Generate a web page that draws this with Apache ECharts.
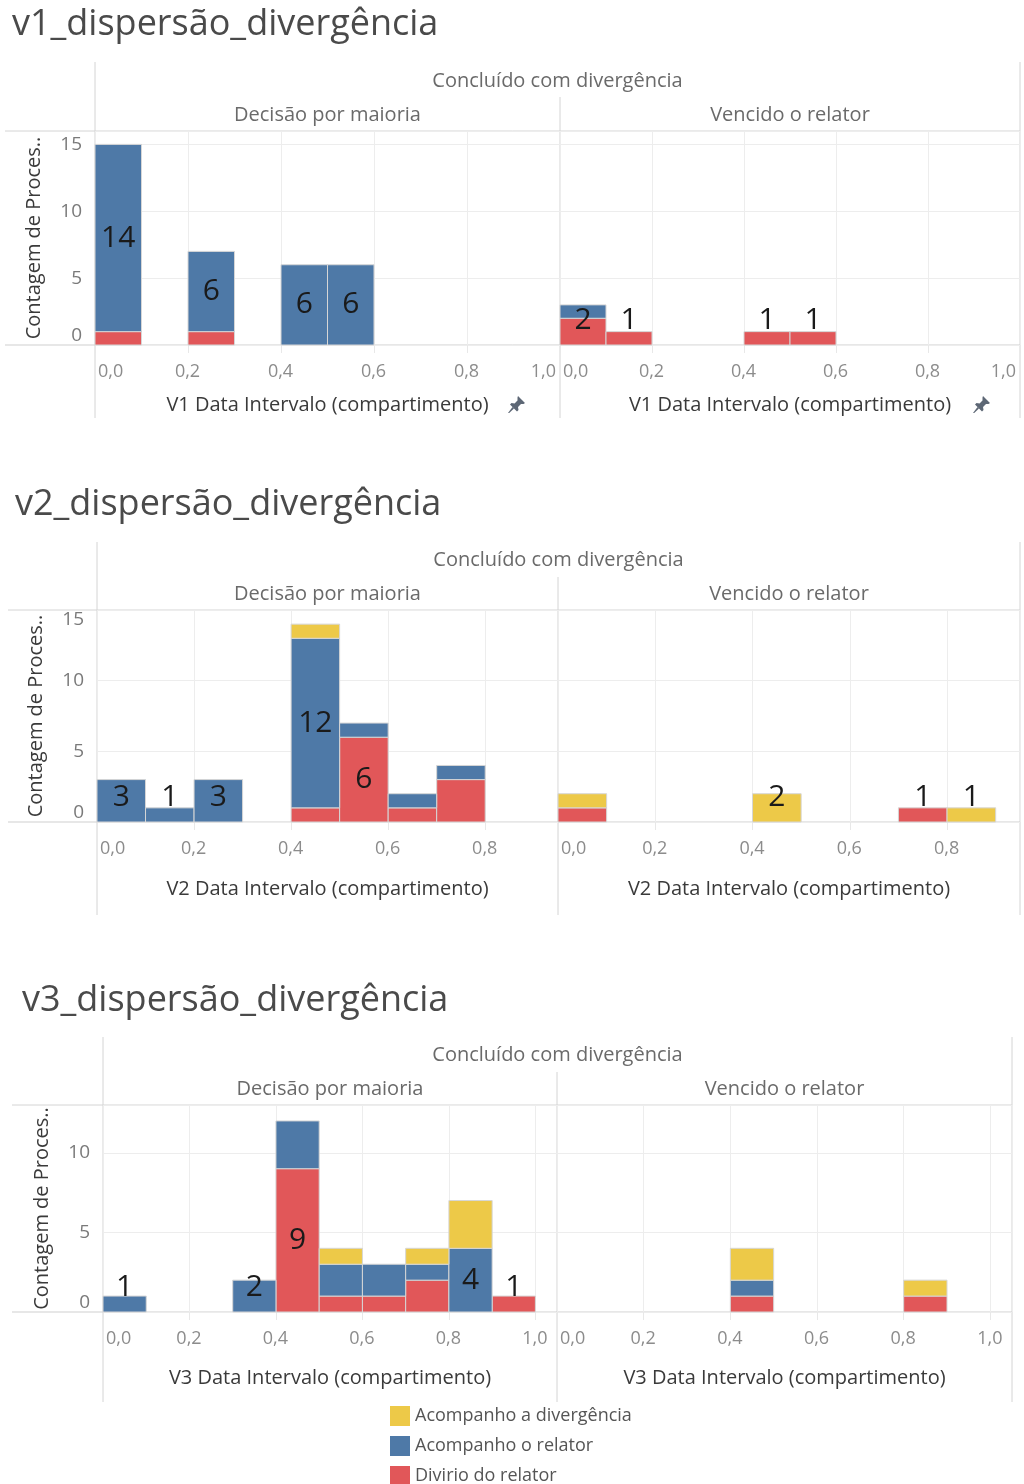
<!DOCTYPE html>
<html>
<head>
<meta charset="utf-8">
<script src="https://cdn.jsdelivr.net/npm/echarts@6/dist/echarts.min.js"></script>
<style>
html, body {margin: 0; padding: 0; background: #fff; overflow: hidden;}
#main {width: 1024px; height: 1500px;}
</style>
</head>
<body>
<div id="main"></div>
<script>
// bins of 0.1 (start of each bin)
var binStarts = [0.0, 0.1, 0.2, 0.3, 0.4, 0.5, 0.6, 0.7, 0.8, 0.9];
var binWidth = 0.1;

var nameDiv = 'Acompanho a divergência';
var nameRel = 'Acompanho o relator';
var nameDvr = 'Divirio do relator';
var colorDiv = '#EDC948';
var colorRel = '#4E79A7';
var colorDvr = '#E15759';

var sectionTitles = ['v1_dispersão_divergência', 'v2_dispersão_divergência', 'v3_dispersão_divergência'];
var xAxisNames = ['V1 Data Intervalo (compartimento)', 'V2 Data Intervalo (compartimento)', 'V3 Data Intervalo (compartimento)'];
var topHeader = 'Concluído com divergência';
var panelHeaders = ['Decisão por maioria', 'Vencido o relator'];
var yAxisName = 'Contagem de Proces..';

// v1
var v1MaioriaDvr = [1, 0, 1, 0, 0, 0, 0, 0, 0, 0];
var v1MaioriaRel = [14, 0, 6, 0, 6, 6, 0, 0, 0, 0];
var v1MaioriaDiv = [0, 0, 0, 0, 0, 0, 0, 0, 0, 0];
var v1VencidoDvr = [2, 1, 0, 0, 1, 1, 0, 0, 0, 0];
var v1VencidoRel = [1, 0, 0, 0, 0, 0, 0, 0, 0, 0];
var v1VencidoDiv = [0, 0, 0, 0, 0, 0, 0, 0, 0, 0];
// v2
var v2MaioriaDvr = [0, 0, 0, 0, 1, 6, 1, 3, 0, 0];
var v2MaioriaRel = [3, 1, 3, 0, 12, 1, 1, 1, 0, 0];
var v2MaioriaDiv = [0, 0, 0, 0, 1, 0, 0, 0, 0, 0];
var v2VencidoDvr = [1, 0, 0, 0, 0, 0, 0, 1, 0, 0];
var v2VencidoRel = [0, 0, 0, 0, 0, 0, 0, 0, 0, 0];
var v2VencidoDiv = [1, 0, 0, 0, 2, 0, 0, 0, 1, 0];
// v3
var v3MaioriaDvr = [0, 0, 0, 0, 9, 1, 1, 2, 0, 1];
var v3MaioriaRel = [1, 0, 0, 2, 3, 2, 2, 1, 4, 0];
var v3MaioriaDiv = [0, 0, 0, 0, 0, 1, 0, 1, 3, 0];
var v3VencidoDvr = [0, 0, 0, 0, 1, 0, 0, 0, 1, 0];
var v3VencidoRel = [0, 0, 0, 0, 1, 0, 0, 0, 0, 0];
var v3VencidoDiv = [0, 0, 0, 0, 2, 0, 0, 0, 1, 0];

// which segments carry a number label: [bin index, segment]
var v1MaioriaLabels = [[0, 'rel'], [2, 'rel'], [4, 'rel'], [5, 'rel']];
var v1VencidoLabels = [[0, 'dvr'], [1, 'dvr'], [4, 'dvr'], [5, 'dvr']];
var v2MaioriaLabels = [[0, 'rel'], [1, 'rel'], [2, 'rel'], [4, 'rel'], [5, 'dvr']];
var v2VencidoLabels = [[4, 'div'], [7, 'dvr'], [8, 'div']];
var v3MaioriaLabels = [[0, 'rel'], [3, 'rel'], [4, 'dvr'], [8, 'rel'], [9, 'dvr']];
var v3VencidoLabels = [];

var yMaxes = [16, 15, 13];
var xMaxes = [1.0, 0.95, 1.05];

var panels = [
    {sec: 0, side: 0, dvr: v1MaioriaDvr, rel: v1MaioriaRel, div: v1MaioriaDiv, labels: v1MaioriaLabels},
    {sec: 0, side: 1, dvr: v1VencidoDvr, rel: v1VencidoRel, div: v1VencidoDiv, labels: v1VencidoLabels},
    {sec: 1, side: 0, dvr: v2MaioriaDvr, rel: v2MaioriaRel, div: v2MaioriaDiv, labels: v2MaioriaLabels},
    {sec: 1, side: 1, dvr: v2VencidoDvr, rel: v2VencidoRel, div: v2VencidoDiv, labels: v2VencidoLabels},
    {sec: 2, side: 0, dvr: v3MaioriaDvr, rel: v3MaioriaRel, div: v3MaioriaDiv, labels: v3MaioriaLabels},
    {sec: 2, side: 1, dvr: v3VencidoDvr, rel: v3VencidoRel, div: v3VencidoDiv, labels: v3VencidoLabels}
];

// page layout of each block (pixels)
var layout = [
    {titleX: 12, titleY: 25, headTop: 62, head1Y: 81, head2Y: 115, sepTop: 97, gridTop: 131, gridBottom: 345, bottomEnd: 418, left: 95, mid: 560, right: 1020, lineLeft: 5, nameGap: 50},
    {titleX: 15, titleY: 505, headTop: 542, head1Y: 560, head2Y: 594, sepTop: 577, gridTop: 610, gridBottom: 822, bottomEnd: 915, left: 97, mid: 558, right: 1020, lineLeft: 8, nameGap: 57},
    {titleX: 22, titleY: 1001, headTop: 1037, head1Y: 1055, head2Y: 1089, sepTop: 1072, gridTop: 1105, gridBottom: 1312, bottomEnd: 1402, left: 103, mid: 557, right: 1012, lineLeft: 12, nameGap: 56}
];

var FONT = '"Open Sans", "Noto Sans", sans-serif';
var chart = echarts.init(document.getElementById('main'), null, {renderer: 'canvas'});

function renderRect(params, api) {
    var p0 = api.coord([api.value(0), api.value(3)]);
    var p1 = api.coord([api.value(1), api.value(2)]);
    return {
        type: 'rect',
        shape: {x: p0[0], y: p0[1], width: p1[0] - p0[0], height: p1[1] - p0[1]},
        style: {fill: api.visual('color'), stroke: '#d6d6d6', lineWidth: 1}
    };
}

function renderLabel(params, api) {
    var p = api.coord([api.value(0), api.value(1)]);
    var base = api.coord([api.value(0), 0])[1];
    return {
        type: 'text',
        x: p[0],
        y: Math.min(p[1], base - 25),
        style: {
            text: String(api.value(2)),
            fill: '#1a1a1a',
            font: '30px ' + FONT,
            textAlign: 'center',
            textVerticalAlign: 'middle'
        }
    };
}

function xLabel(v) {
    var k = v * 5;
    return Math.abs(k - Math.round(k)) < 1e-6 ? v.toFixed(1).replace('.', ',') : '';
}
function yLabel(v) {
    return v % 5 === 0 ? String(v) : '';
}

var grids = [], xAxes = [], yAxes = [], series = [], graphics = [];

panels.forEach(function (pn, idx) {
    var L = layout[pn.sec];
    var gl = pn.side === 0 ? L.left : L.mid;
    var gr = pn.side === 0 ? L.mid : L.right;
    grids.push({left: gl, top: L.gridTop, width: gr - gl, height: L.gridBottom - L.gridTop, outerBoundsMode: 'none', containLabel: false});

    xAxes.push({
        gridIndex: idx, type: 'value', min: 0, max: xMaxes[pn.sec], interval: 0.2,
        axisLine: {show: false},
        axisTick: {show: true, length: 8, lineStyle: {color: '#e8e8e8'}},
        splitLine: {show: true, lineStyle: {color: '#ededed', width: 1}},
        axisLabel: {
            formatter: xLabel, color: '#8c8c8c', fontSize: 18, fontFamily: FONT, margin: 18,
            padding: [0, 4, 0, 3],
            alignMinLabel: 'left', alignMaxLabel: pn.sec === 0 ? 'right' : 'center', hideOverlap: false
        },
        name: xAxisNames[pn.sec], nameLocation: 'middle', nameGap: L.nameGap, nameMoveOverlap: false,
        nameTextStyle: {color: '#3a3a3a', fontSize: 20, fontFamily: FONT}
    });

    yAxes.push({
        gridIndex: idx, type: 'value', min: 0, max: yMaxes[pn.sec], interval: 5,
        axisLine: {show: false}, axisTick: {show: false},
        splitLine: {show: true, lineStyle: {color: '#ededed', width: 1}},
        axisLabel: {
            show: pn.side === 0, formatter: yLabel, color: '#7a7a7a', fontSize: 19, fontFamily: FONT, margin: 13,
            verticalAlignMinLabel: 'bottom', verticalAlignMaxLabel: 'top'
        },
        name: pn.side === 0 ? yAxisName : '', nameLocation: 'middle', nameGap: 51, nameRotate: 90, nameMoveOverlap: false,
        nameTextStyle: {color: '#3a3a3a', fontSize: 20, fontFamily: FONT}
    });

    // stacked segments: red at bottom, then blue, then yellow
    var segs = {dvr: [], rel: [], div: []};
    var bases = {dvr: [], rel: [], div: []};
    binStarts.forEach(function (x0, i) {
        var b = 0;
        ['dvr', 'rel', 'div'].forEach(function (k) {
            var v = pn[k][i];
            bases[k][i] = b;
            if (v > 0) segs[k].push([x0, x0 + binWidth, b, b + v]);
            b += v;
        });
    });
    [['dvr', nameDvr, colorDvr], ['rel', nameRel, colorRel], ['div', nameDiv, colorDiv]].forEach(function (s) {
        series.push({
            type: 'custom', name: s[1], xAxisIndex: idx, yAxisIndex: idx,
            itemStyle: {color: s[2]},
            renderItem: renderRect,
            encode: {x: [0, 1], y: [2, 3]},
            data: segs[s[0]],
            silent: true
        });
    });
    var labelData = pn.labels.map(function (lb) {
        var i = lb[0], k = lb[1], v = pn[k][i];
        return [binStarts[i] + binWidth / 2, bases[k][i] + v / 2, v];
    });
    series.push({
        type: 'custom', name: 'labels', xAxisIndex: idx, yAxisIndex: idx,
        renderItem: renderLabel, encode: {x: 0, y: 1}, data: labelData, silent: true, z: 10
    });
});

function line(x1, y1, x2, y2, color) {
    return {type: 'line', shape: {x1: x1, y1: y1, x2: x2, y2: y2}, style: {stroke: color || '#d4d4d4', lineWidth: 1}, silent: true};
}
function text(str, x, y, size, color, align) {
    return {type: 'text', x: x, y: y, silent: true,
        style: {text: str, fill: color, font: size + 'px ' + FONT, textAlign: align || 'center', textVerticalAlign: 'middle'}};
}
// little pushpin next to the v1 axis titles
var pinHead = [[10, 0], [17, 7], [15.5, 8], [13, 8], [10, 11], [10.5, 14], [9, 15.5], [2, 8.5], [3.5, 7], [6.5, 7.5], [9.5, 4.5], [9.5, 1.5]];
var pinNeedle = [[4.5, 11], [6, 12.5], [1.2, 17], [0, 17]];
function pin(x, y) {
    return {type: 'group', x: x, y: y, silent: true, children: [
        {type: 'polygon', shape: {points: pinHead}, style: {fill: '#5d6775'}},
        {type: 'polygon', shape: {points: pinNeedle}, style: {fill: '#5d6775'}}
    ]};
}

layout.forEach(function (L, s) {
    graphics.push(text(sectionTitles[s], L.titleX, L.titleY, 36, '#4a4a4a', 'left'));
    graphics.push(text(topHeader, (L.left + L.right) / 2, L.head1Y, 20, '#6a6a6a'));
    graphics.push(text(panelHeaders[0], (L.left + L.mid) / 2, L.head2Y, 20, '#6a6a6a'));
    graphics.push(text(panelHeaders[1], (L.mid + L.right) / 2, L.head2Y, 20, '#6a6a6a'));
    graphics.push(line(L.left, L.headTop, L.left, L.bottomEnd));
    graphics.push(line(L.right, L.headTop, L.right, L.bottomEnd));
    graphics.push(line(L.mid, L.sepTop, L.mid, L.bottomEnd));
    graphics.push(line(L.lineLeft, L.gridTop, L.right, L.gridTop));
    graphics.push(line(L.lineLeft, L.gridBottom, L.right, L.gridBottom, '#cfcfcf'));
    if (s === 0) {
        graphics.push(pin(508, 396));
        graphics.push(pin(973, 396));
    }
});

var option = {
    animation: false,
    backgroundColor: '#ffffff',
    grid: grids,
    xAxis: xAxes,
    yAxis: yAxes,
    legend: {
        orient: 'vertical', left: 390, top: 1406, padding: 0,
        itemWidth: 20, itemHeight: 20, itemGap: 10, icon: 'rect', selectedMode: false,
        textStyle: {color: '#555', fontSize: 18, fontFamily: FONT},
        data: [
            {name: nameDiv, itemStyle: {color: colorDiv}},
            {name: nameRel, itemStyle: {color: colorRel}},
            {name: nameDvr, itemStyle: {color: colorDvr}}
        ]
    },
    graphic: graphics,
    series: series
};
chart.setOption(option);
</script>
</body>
</html>
